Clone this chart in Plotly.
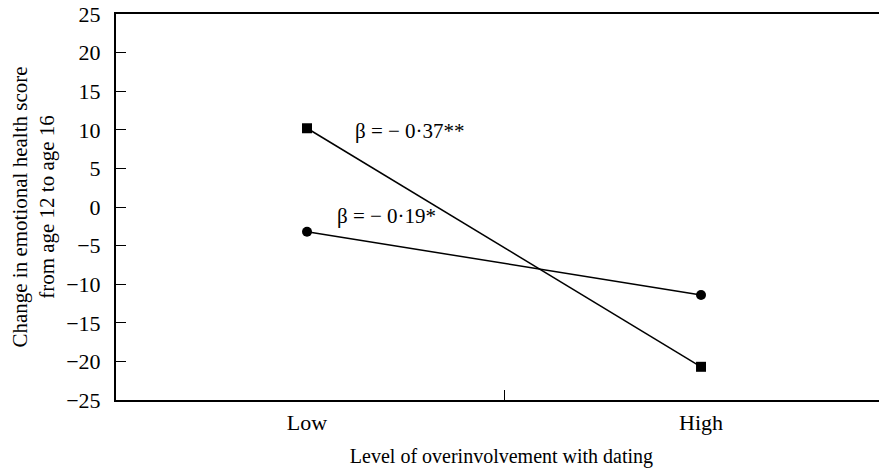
import plotly.graph_objects as go

levels = ["Low", "High"]
x_pos = [0, 1]
series_square = [10.2, -20.7]
series_circle = [-3.2, -11.4]
label_square = "β = − 0·37**"
label_circle = "β = − 0·19*"
y_ticks = [-25, -20, -15, -10, -5, 0, 5, 10, 15, 20, 25]

FONT = "Liberation Serif, Times New Roman, serif"

fig = go.Figure()
fig.add_trace(go.Scatter(
    x=x_pos, y=series_square, mode="lines+markers",
    line=dict(color="black", width=1.5),
    marker=dict(symbol="square", size=10, color="black"),
    showlegend=False, cliponaxis=False))
fig.add_trace(go.Scatter(
    x=x_pos, y=series_circle, mode="lines+markers",
    line=dict(color="black", width=1.5),
    marker=dict(symbol="circle", size=10, color="black"),
    showlegend=False, cliponaxis=False))

fig.add_annotation(x=0.117, y=9.8, text=label_square, showarrow=False,
                   xanchor="left", yanchor="middle",
                   font=dict(family=FONT, size=21, color="black"))
fig.add_annotation(x=0.071, y=-1.2, text=label_circle, showarrow=False,
                   xanchor="left", yanchor="middle",
                   font=dict(family=FONT, size=21, color="black"))

# page body has an 8px margin; figure is sized so its plot area lines up with the reference
fig.update_layout(
    width=879, height=461,
    margin=dict(l=108, r=0, t=6, b=69, autoexpand=False),
    paper_bgcolor="white", plot_bgcolor="white",
    font=dict(family=FONT, size=22, color="black"),
    xaxis=dict(
        range=[-0.4848, 1.472],
        tickvals=x_pos, ticktext=levels, ticks="",
        ticklabelstandoff=2,
        tickfont=dict(size=22),
        minor=dict(tickvals=[0.5], ticks="inside", ticklen=10, tickwidth=1, tickcolor="black"),
        showgrid=False, zeroline=False,
        showline=True, linecolor="black", linewidth=2, mirror=True,
        automargin=False,
        title=dict(text="Level of overinvolvement with dating", standoff=15,
                   font=dict(family=FONT, size=20)),
    ),
    yaxis=dict(
        range=[-25, 25],
        tickvals=y_ticks, ticks="inside", ticklen=10, tickwidth=1, tickcolor="black",
        ticklabelstandoff=9,
        ticklabeloverflow="allow",
        tickfont=dict(size=22),
        showgrid=False, zeroline=False,
        showline=True, linecolor="black", linewidth=2,
        automargin=False,
        title=dict(text="Change in emotional health score<br>from age 12 to age 16",
                   standoff=10, font=dict(family=FONT, size=21)),
    ),
)

fig.write_html("out.html")
